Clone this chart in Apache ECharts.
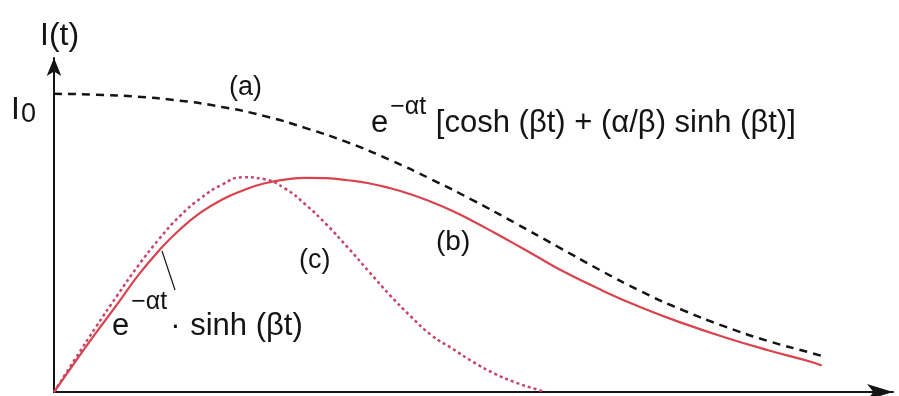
<!DOCTYPE html>
<html>
<head>
<meta charset="utf-8">
<style>
  html, body { margin: 0; padding: 0; background: #fff; }
  #chart { width: 899px; height: 396px; }
</style>
<script src="https://cdn.jsdelivr.net/npm/echarts@6/dist/echarts.min.js"></script>
</head>
<body>
<div id="chart"></div>
<script>
// Time samples t (arbitrary units) and the three response curves I(t)/I0.
const tA = [0, 0.5, 1, 1.5, 2, 2.5, 3, 3.5, 4, 4.5, 5, 5.5, 6, 6.5, 7, 7.5, 8, 8.5, 9, 9.2];
const curveA = [1.0, 0.997, 0.99, 0.977, 0.956, 0.926, 0.885, 0.837, 0.779, 0.713, 0.642, 0.566, 0.488, 0.410, 0.337, 0.274, 0.219, 0.172, 0.133, 0.117];

const tB = [0, 0.25, 0.5, 0.75, 1, 1.25, 1.5, 1.75, 2, 2.25, 2.5, 2.75, 3, 3.25, 3.5, 3.75, 4, 4.25, 4.5, 4.75, 5, 5.25, 5.5, 5.75, 6, 6.5, 7, 7.5, 8, 8.5, 9, 9.15];
const curveB = [0, 0.100, 0.198, 0.293, 0.390, 0.474, 0.545, 0.602, 0.645, 0.676, 0.699, 0.712, 0.718, 0.717, 0.710, 0.700, 0.684, 0.663, 0.637, 0.607, 0.572, 0.534, 0.495, 0.455, 0.415, 0.345, 0.283, 0.230, 0.183, 0.141, 0.103, 0.089];

const tC = [0, 0.25, 0.5, 0.75, 1, 1.25, 1.5, 1.75, 2, 2.25, 2.5, 2.75, 3, 3.25, 3.5, 3.75, 4, 4.25, 4.5, 4.75, 5, 5.25, 5.5, 5.75, 5.85];
const curveC = [0, 0.110, 0.218, 0.322, 0.422, 0.512, 0.590, 0.650, 0.695, 0.720, 0.714, 0.683, 0.628, 0.561, 0.485, 0.405, 0.326, 0.254, 0.190, 0.145, 0.100, 0.062, 0.032, 0.009, 0];

const axisLabelY = 'I(t)';
const startLabel = ['I', '0'];
const curveTags = ['(a)', '(b)', '(c)'];

const pairs = (xs, ys) => xs.map((x, i) => [x, ys[i]]);

const FONT = '"Liberation Sans", Arial, sans-serif';
const INK = '#141414';
const RED = '#d8434d';
const RED_DOT = '#c4476a';

const chart = echarts.init(document.getElementById('chart'), null, { renderer: 'canvas' });

const axisCommon = {
  type: 'value',
  axisTick: { show: false },
  axisLabel: { show: false },
  splitLine: { show: false },
  axisLine: {
    show: true,
    symbol: ['none', 'arrow'],
    lineStyle: { color: INK, width: 2 }
  }
};

// Formula text: main glyphs sit on the line bottom, the exponent hangs from the top.
// supDrop lowers the exponent by enlarging its own line box.
function formula(mainSize, supSize, lineH, supDrop) {
  return {
    m: { fontFamily: FONT, fontSize: mainSize, verticalAlign: 'bottom', lineHeight: lineH },
    d: { fontFamily: FONT, fontSize: mainSize, verticalAlign: 'bottom', lineHeight: lineH, padding: [0, 1, 0, 2] },
    p: { fontFamily: FONT, fontSize: supSize, verticalAlign: 'top', lineHeight: supSize + 2 + 2 * supDrop, padding: [0, 1, 0, 2] }
  };
}

chart.setOption({
  animation: false,
  backgroundColor: '#ffffff',
  grid: { left: 54, right: 6, top: 58, bottom: 4 },
  xAxis: Object.assign({}, axisCommon, {
    min: 0, max: 10,
    axisLine: Object.assign({}, axisCommon.axisLine, { symbolSize: [12, 26] })
  }),
  yAxis: Object.assign({}, axisCommon, {
    min: 0, max: 1.12,
    axisLine: Object.assign({}, axisCommon.axisLine, { symbolSize: [11, 18] })
  }),
  series: [
    {
      name: curveTags[0], type: 'line', smooth: true, showSymbol: false, silent: true,
      data: pairs(tA, curveA),
      lineStyle: { color: INK, width: 2.5, type: [8, 6] }
    },
    {
      name: curveTags[1], type: 'line', smooth: true, showSymbol: false, silent: true,
      data: pairs(tB, curveB),
      lineStyle: { color: RED, width: 2.2 }
    },
    {
      name: curveTags[2], type: 'line', smooth: true, showSymbol: false, silent: true,
      data: pairs(tC, curveC),
      lineStyle: { color: RED_DOT, width: 2.5, type: [3, 3] }
    }
  ],
  graphic: [
    { type: 'text', left: 40, top: 20,
      style: { text: axisLabelY, font: '32px ' + FONT, fill: INK } },
    { type: 'text', left: 11, top: 94,
      style: {
        text: '{i|' + startLabel[0] + '}{s|' + startLabel[1] + '}',
        fill: INK,
        rich: {
          i: { fontFamily: FONT, fontSize: 32, verticalAlign: 'top', lineHeight: 34 },
          s: { fontFamily: FONT, fontSize: 27, verticalAlign: 'bottom', lineHeight: 34, padding: [4, 0, 0, 1] }
        }
      } },
    { type: 'text', left: 229, top: 74,
      style: { text: curveTags[0], font: '27px ' + FONT, fill: INK } },
    { type: 'text', left: 436, top: 228,
      style: { text: curveTags[1], font: '28px ' + FONT, fill: INK } },
    { type: 'text', left: 299, top: 247,
      style: { text: curveTags[2], font: '27px ' + FONT, fill: INK } },
    { type: 'text', left: 371, top: 95,
      style: {
        text: '{m|e}{p|−αt}{m| [cosh (βt) + (α/β) sinh (βt)]}',
        fill: INK,
        rich: formula(31, 25, 44, 3)
      } },
    { type: 'text', left: 112, top: 290,
      style: {
        text: '{m|e}{p|−αt}{d|·}{m| sinh (βt)}',
        fill: INK,
        rich: formula(31, 25, 52, 0)
      } },
    { type: 'line', shape: { x1: 162, y1: 251, x2: 175, y2: 290 },
      style: { stroke: INK, lineWidth: 1.2 } }
  ]
});
</script>
</body>
</html>
